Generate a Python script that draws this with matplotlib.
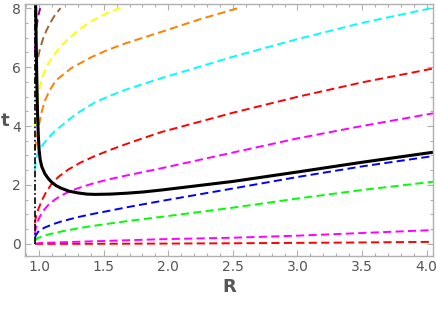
import numpy as np
import matplotlib
matplotlib.use("Agg")
import matplotlib.pyplot as plt
from matplotlib.ticker import MultipleLocator

# Dashed curves t(R)
red_lo_R = [0.967, 1.5, 2.0, 2.5, 3.0, 3.5, 4.05]
red_lo_t = [0.0, 0.005, 0.012, 0.022, 0.035, 0.05, 0.07]

mag_lo_R = [0.967, 1.0, 1.2, 1.5, 1.95, 2.5, 3.0, 3.5, 4.05]
mag_lo_t = [0.0, 0.03, 0.06, 0.1, 0.16, 0.21, 0.28, 0.37, 0.47]

green_R = [0.967, 0.975, 0.99, 1.02, 1.07, 1.17, 1.30, 1.43, 1.675, 1.95, 2.5, 3.0, 3.5, 4.05]
green_t = [0.1, 0.15, 0.2, 0.25, 0.32, 0.42, 0.53, 0.62, 0.77, 0.92, 1.23, 1.54, 1.83, 2.11]

blue_R = [0.967, 0.975, 0.99, 1.01, 1.04, 1.1, 1.17, 1.30, 1.43, 1.55, 1.675, 1.95, 2.5, 3.0, 3.5, 4.05]
blue_t = [0.2, 0.3, 0.4, 0.47, 0.55, 0.66, 0.76, 0.91, 1.03, 1.13, 1.24, 1.46, 1.88, 2.27, 2.63, 2.98]

mag_up_R = [0.967, 0.972, 0.985, 1.005, 1.035, 1.07, 1.12, 1.17, 1.23, 1.30, 1.43, 1.55,
            1.675, 1.95, 2.5, 3.0, 3.5, 4.05]
mag_up_t = [0.35, 0.5, 0.72, 0.93, 1.14, 1.32, 1.5, 1.64, 1.77, 1.89, 2.07, 2.2,
            2.32, 2.57, 3.1, 3.58, 4.0, 4.43]

red_up_R = [0.967, 0.972, 0.98, 0.995, 1.018, 1.05, 1.095, 1.15, 1.224, 1.32, 1.43, 1.55,
            1.675, 1.8, 1.95, 2.5, 3.0, 3.5, 4.05]
red_up_t = [0.7, 0.85, 1.0, 1.2, 1.45, 1.73, 2.03, 2.28, 2.52, 2.76, 2.98, 3.19,
            3.39, 3.58, 3.8, 4.45, 4.99, 5.48, 5.95]

cyan_R = [0.967, 0.972, 0.98, 0.99, 1.005, 1.03, 1.07, 1.12, 1.17, 1.23, 1.30, 1.43, 1.55,
          1.675, 1.95, 2.5, 3.0, 3.5, 4.04]
cyan_t = [2.5, 2.75, 2.95, 3.08, 3.22, 3.38, 3.6, 3.82, 4.0, 4.22, 4.45, 4.8, 5.03,
          5.24, 5.63, 6.35, 6.95, 7.5, 8.0]

orange_R = [0.967, 0.975, 0.985, 0.995, 1.01, 1.025, 1.046, 1.08, 1.115, 1.15, 1.25, 1.41,
            1.53, 1.665, 1.95, 2.25, 2.54]
orange_t = [3.2, 3.45, 3.7, 3.95, 4.3, 4.58, 4.88, 5.2, 5.45, 5.62, 5.97, 6.35,
            6.58, 6.8, 7.2, 7.63, 8.0]

yellow_R = [0.967, 0.975, 0.985, 0.995, 1.018, 1.04, 1.07, 1.12, 1.17, 1.23, 1.29, 1.35,
            1.41, 1.52, 1.64]
yellow_t = [4.0, 4.35, 4.8, 5.15, 5.56, 5.85, 6.12, 6.45, 6.72, 6.98, 7.2, 7.4,
            7.57, 7.82, 8.03]

brown_R = [0.967, 0.975, 0.985, 1.005, 1.03, 1.057, 1.085, 1.12, 1.165]
brown_t = [5.5, 5.85, 6.2, 6.6, 6.97, 7.25, 7.5, 7.75, 8.0]

purple_R = [0.967, 0.972, 0.98, 0.99, 1.008]
purple_t = [6.5, 6.9, 7.35, 7.7, 8.0]

# Solid black curve
black_R = [0.972, 0.976, 0.98, 0.984, 0.988, 0.993, 0.999, 1.008, 1.02, 1.044, 1.07, 1.095,
           1.13, 1.17, 1.23, 1.30, 1.37, 1.43, 1.55, 1.675, 1.8, 1.95, 2.5, 3.0, 3.5, 4.05]
black_t = [8.3, 7.0, 6.0, 5.0, 4.3, 3.7, 3.2, 2.85, 2.62, 2.38, 2.22, 2.1,
           1.98, 1.89, 1.79, 1.73, 1.69, 1.68, 1.69, 1.72, 1.76, 1.83, 2.12, 2.44, 2.77, 3.11]

# Vertical dash-dot line
R_wall = 0.966

curves = [
    (red_lo_R, red_lo_t, "#ff0000"),
    (mag_lo_R, mag_lo_t, "#ff00ff"),
    (green_R, green_t, "#00ff00"),
    (blue_R, blue_t, "#0000ff"),
    (mag_up_R, mag_up_t, "#ff00ff"),
    (red_up_R, red_up_t, "#ff0000"),
    (cyan_R, cyan_t, "#00ffff"),
    (orange_R, orange_t, "#ff8000"),
    (yellow_R, yellow_t, "#ffff00"),
    (brown_R, brown_t, "#996633"),
    (purple_R, purple_t, "#800080"),
]

fig = plt.figure(figsize=(4.36, 3.09), dpi=100)
ax = fig.add_axes([25 / 436, 53 / 309, 408 / 436, 252 / 309])

for R, t, c in curves:
    ax.plot(R, t, color=c, lw=1.4, dashes=(4.2, 2.2))

ax.plot([R_wall, R_wall], [0, 8.3], color="black", lw=1.2,
        linestyle=(0, (4, 1.5, 1, 1.5)))
ax.plot(black_R, black_t, color="black", lw=2.2, solid_capstyle="butt")

ax.set_xlim(0.89, 4.05)
ax.set_ylim(-0.41, 8.14)

ax.xaxis.set_major_locator(MultipleLocator(0.5))
ax.xaxis.set_minor_locator(MultipleLocator(0.1))
ax.yaxis.set_major_locator(MultipleLocator(2))
ax.yaxis.set_minor_locator(MultipleLocator(0.5))
ax.xaxis.set_major_formatter(plt.FormatStrFormatter("%.1f"))

frame_c = "#b0b0b0"
for s in ax.spines.values():
    s.set_color(frame_c)
    s.set_linewidth(1.0)
ax.tick_params(which="both", direction="in", top=True, right=True,
               color=frame_c, labelcolor="#555555", labelsize=10, width=0.8)
ax.tick_params(which="major", length=4, pad=3)
ax.tick_params(which="minor", length=2)

ax.set_xlabel("R", fontsize=13, fontweight="bold", color="#555555", labelpad=3)
ax.set_ylabel("t", fontsize=13, fontweight="bold", color="#555555", rotation=0)
ax.yaxis.set_label_coords(-0.05, 0.5)

fig.savefig("out.png", dpi=100)
